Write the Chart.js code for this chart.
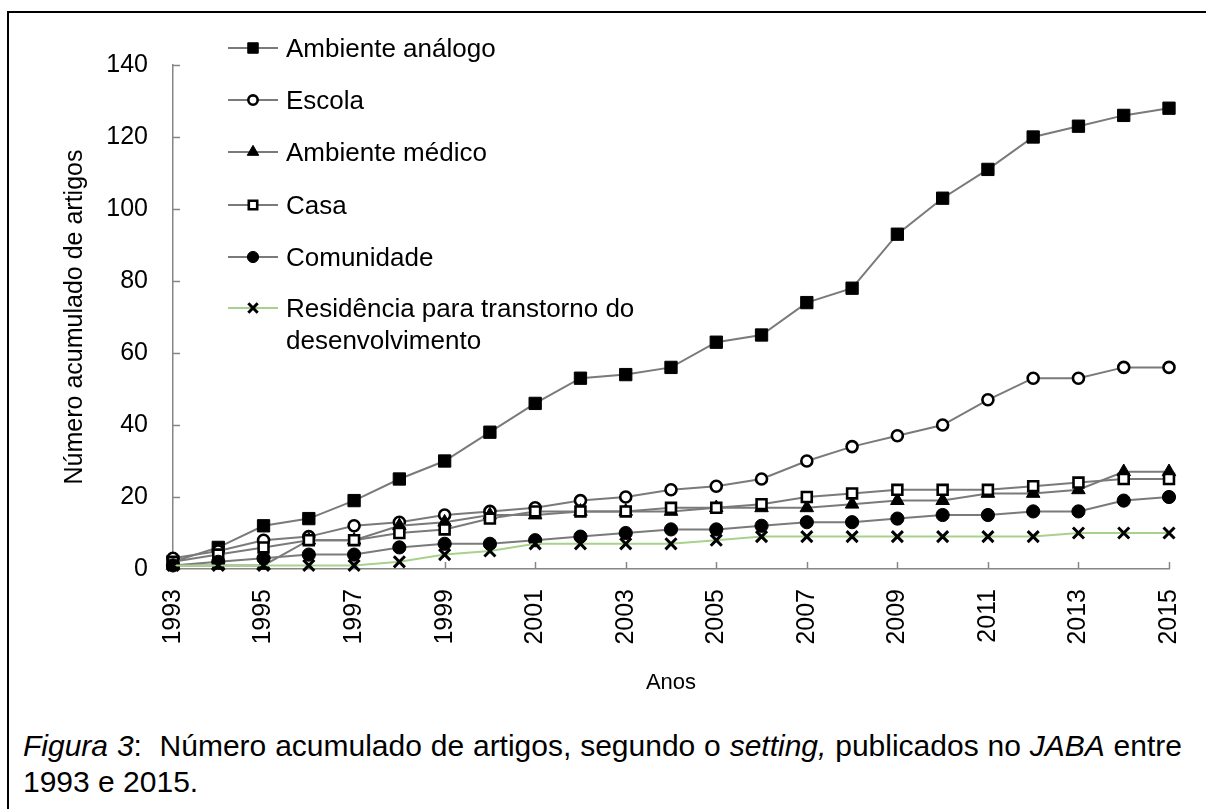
<!DOCTYPE html>
<html>
<head>
<meta charset="utf-8">
<script src="https://cdn.jsdelivr.net/npm/chart.js@4.4.1/dist/chart.umd.min.js"></script>
<style>
html,body{margin:0;padding:0;background:#fff;width:1206px;height:809px;overflow:hidden;font-family:"Liberation Sans",Arial,sans-serif;}
#frame{position:absolute;left:7px;top:11px;width:1400px;height:1000px;border:2px solid #000;}
#wrap{position:absolute;left:0;top:0;width:1206px;height:720px;}
.cap{position:absolute;left:23px;font-size:30px;line-height:36px;color:#000;white-space:nowrap;}
#cap1{width:1159px;text-align:justify;text-align-last:justify;white-space:normal;}
</style>
</head>
<body>
<div id="frame"></div>
<div id="wrap"><canvas id="c" width="1206" height="720"></canvas></div>
<div class="cap" id="cap1" style="top:728px"><i>Figura 3</i>:&nbsp; Número acumulado de artigos, segundo o <i>setting,</i> publicados no <i>JABA</i> entre</div>
<div class="cap" style="top:764px">1993 e 2015.</div>
<script>
// ---- data ----
const years = [1993,1994,1995,1996,1997,1998,1999,2000,2001,2002,2003,2004,2005,2006,2007,2008,2009,2010,2011,2012,2013,2014,2015];
const xTickLabels = [1993,1995,1997,1999,2001,2003,2005,2007,2009,2011,2013,2015];
const yTickLabels = [0,20,40,60,80,100,120,140];
const seriesNames = ['Ambiente análogo','Escola','Ambiente médico','Casa','Comunidade','Residência para transtorno do desenvolvimento'];
const ambienteAnalogo = [2,6,12,14,19,25,30,38,46,53,54,56,63,65,74,78,93,103,111,120,123,126,128];
const escola          = [3,5,8,9,12,13,15,16,17,19,20,22,23,25,30,34,37,40,47,53,53,56,56];
const ambienteMedico  = [1,1,1,8,8,12,13,15,15,16,16,16,17,17,17,18,19,19,21,21,22,27,27];
const casa            = [2,4,6,8,8,10,11,14,16,16,16,17,17,18,20,21,22,22,22,23,24,25,25];
const comunidade      = [1,2,3,4,4,6,7,7,8,9,10,11,11,12,13,13,14,15,15,16,16,19,20];
const residencia      = [1,1,1,1,1,2,4,5,7,7,7,7,8,9,9,9,9,9,9,9,10,10,10];

const FONT = '"Liberation Sans", Arial, sans-serif';
const pts = arr => years.map((yr,i)=>({x:yr, y:arr[i]}));
const GRAY = '#7a7a7a';
const AXIS = '#868686';

function mk(label, arr, style, opts){
  return Object.assign({
    label, data: pts(arr), borderColor: GRAY, borderWidth: 2, tension: 0, clip: false,
    pointStyle: style, pointBackgroundColor: '#000', pointBorderColor: '#000', pointBorderWidth: 1,
    pointHoverRadius: 0
  }, opts);
}

const datasets = [
  mk(seriesNames[0], ambienteAnalogo, 'rect',   {pointRadius: 8.7, order: 5}),
  mk(seriesNames[1], escola,          'circle', {pointRadius: 5.5, pointBackgroundColor:'#fff', pointBorderWidth: 2.6, order: 4}),
  mk(seriesNames[2], ambienteMedico,  'triangle',{pointRadius: 7.8, order: 3}),
  mk(seriesNames[3], casa,            'rect',   {pointRadius: 7, pointBackgroundColor:'#fff', pointBorderWidth: 2.6, order: 2}),
  mk(seriesNames[4], comunidade,      'circle', {pointRadius: 6.6, order: 1}),
  mk(seriesNames[5], residencia,      'crossRot',{pointRadius: 7.8, pointBorderWidth: 3, borderColor:'#a9d18e', order: 0})
];

const insideTicks = {
  id: 'insideTicks',
  beforeDatasetsDraw(chart){
    const ctx = chart.ctx, xs = chart.scales.x, ys = chart.scales.y;
    ctx.save();
    ctx.strokeStyle = AXIS; ctx.lineWidth = 1.5;
    ctx.beginPath();
    ys.ticks.forEach(t=>{ const y = Math.round(ys.getPixelForValue(t.value))+0.5; ctx.moveTo(xs.left, y); ctx.lineTo(xs.left+7, y); });
    xs.ticks.forEach(t=>{ const x = Math.round(xs.getPixelForValue(t.value))+0.5; ctx.moveTo(x, ys.bottom); ctx.lineTo(x, ys.bottom-7); });
    ctx.stroke();
    ctx.restore();
  }
};

const legendLines = [['Ambiente análogo'],['Escola'],['Ambiente médico'],['Casa'],['Comunidade'],['Residência para transtorno do','desenvolvimento']];
const insideLegend = {
  id: 'insideLegend',
  afterDraw(chart){
    const ctx = chart.ctx;
    const rowY = [48,100,152,205,257,308];
    chart.data.datasets.forEach((ds,i)=>{
      const y = rowY[i];
      ctx.save();
      ctx.strokeStyle = ds.borderColor; ctx.lineWidth = 2;
      ctx.beginPath(); ctx.moveTo(228,y); ctx.lineTo(278,y); ctx.stroke();
      ctx.fillStyle = ds.pointBackgroundColor; ctx.strokeStyle = ds.pointBorderColor; ctx.lineWidth = ds.pointBorderWidth;
      Chart.helpers.drawPoint(ctx, {pointStyle: ds.pointStyle, radius: ds.pointRadius*0.85, borderWidth: ds.pointBorderWidth, rotation: 0}, 253, y);
      ctx.fillStyle = '#000'; ctx.font = '26px ' + FONT; ctx.textBaseline = 'alphabetic'; ctx.textAlign = 'left';
      legendLines[i].forEach((t,k)=> ctx.fillText(t, 286, y + 9 + k*32));
      ctx.restore();
    });
  }
};

new Chart(document.getElementById('c'), {
  type: 'line',
  data: { datasets },
  options: {
    responsive: false,
    animation: false,
    devicePixelRatio: 1,
    layout: { padding: { top: 65, right: 37, left: 0, bottom: 0 } },
    plugins: { legend: { display: false }, tooltip: { enabled: false } },
    scales: {
      x: {
        type: 'linear', min: 1993, max: 2015,
        afterFit(s){ s.height = 151; s.paddingLeft = 0; s.paddingRight = 0; },
        afterBuildTicks(s){ s.ticks = xTickLabels.map(v=>({value:v})); },
        ticks: { autoSkip: false, minRotation: 90, maxRotation: 90, padding: 20, color: '#000',
                 font: { size: 25, family: FONT }, callback: v => String(v) },
        grid: { drawOnChartArea: false, drawTicks: false },
        border: { color: AXIS, width: 1.5 },
        title: { display: true, text: 'Anos', color: '#000', font: { size: 22, family: FONT }, padding: { top: 0, bottom: 24 } }
      },
      y: {
        min: 0, max: 140,
        afterFit(s){ s.width = 173; s.paddingTop = 0; s.paddingBottom = 0; },
        afterBuildTicks(s){ s.ticks = yTickLabels.map(v=>({value:v})); },
        ticks: { padding: 25, color: '#000', font: { size: 25, family: FONT } },
        grid: { drawOnChartArea: false, drawTicks: false },
        border: { color: AXIS, width: 1.5 },
        title: { display: true, text: 'Número acumulado de artigos', color: '#000', font: { size: 25, family: FONT }, padding: { top: 60, bottom: 0 } }
      }
    }
  },
  plugins: [insideTicks, insideLegend]
});
</script>
</body>
</html>
